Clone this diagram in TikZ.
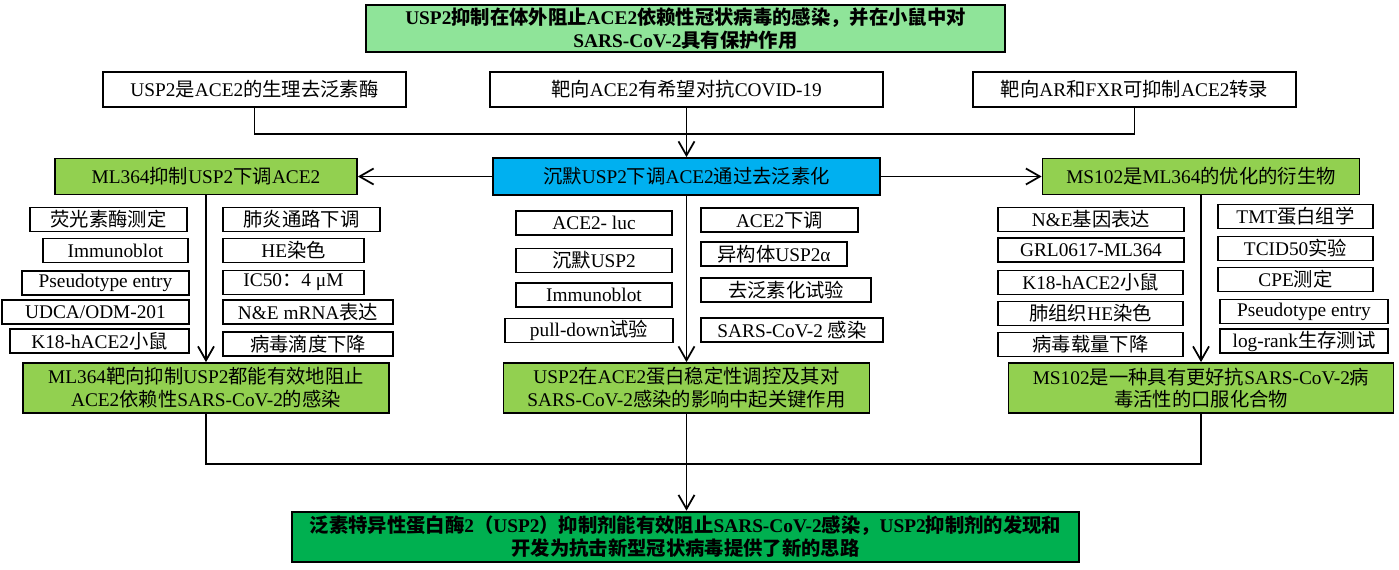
\documentclass[tikz,border=0pt]{standalone}
\usepackage{fontspec}
\setmainfont{Liberation Serif}
\newfontfamily\cjk{Noto Sans CJK SC}
\usepackage{tikz}
\usetikzlibrary{arrows.meta}

\definecolor{titlegreen}{RGB}{143,228,153}
\definecolor{hubblue}{RGB}{0,176,240}
\definecolor{leafgreen}{RGB}{146,208,80}
\definecolor{deepgreen}{RGB}{0,176,80}

% CJK characters go to Noto Sans CJK, the rest stays in Liberation Serif
\newXeTeXintercharclass\cjkclass
\newcount\cjkcnt
\cjkcnt="4E00
\loop \XeTeXcharclass\cjkcnt=\cjkclass \advance\cjkcnt 1 \ifnum\cjkcnt<"A000 \repeat
\cjkcnt="3000
\loop \XeTeXcharclass\cjkcnt=\cjkclass \advance\cjkcnt 1 \ifnum\cjkcnt<"3040 \repeat
\cjkcnt="FF00
\loop \XeTeXcharclass\cjkcnt=\cjkclass \advance\cjkcnt 1 \ifnum\cjkcnt<"FFF0 \repeat
\XeTeXinterchartoks 0 \cjkclass = {\cjk}
\XeTeXinterchartoks 4095 \cjkclass = {\cjk}
\XeTeXinterchartoks \cjkclass 0 = {\rmfamily}
\XeTeXinterchartoks \cjkclass 4095 = {\rmfamily}
\XeTeXinterchartokenstate=1

\begin{document}
\begin{tikzpicture}[x=0.02cm,y=-0.02cm,line width=1pt,
  box/.style={draw,line width=1pt,inner sep=0pt,fill=white,font=\fontsize{11}{13}\selectfont},
  sbox/.style={box,minimum height=0.48cm},
  headbox/.style={box,minimum height=0.72cm,fill=leafgreen},
  resbox/.style={box,minimum height=1cm,fill=leafgreen,align=center},
  >={Straight Barb[length=2.8mm,width=3.2mm]}]
  \useasboundingbox (0,0) rectangle (1399,569);

  \node[box,fill=titlegreen,line width=1.5pt,minimum width=12.78cm,minimum height=0.94cm,align=center,font=\fontsize{11}{13}\selectfont\bfseries] (top) at (685.5,28.5) {USP2抑制在体外阻止ACE2依赖性冠状病毒的感染，并在小鼠中对\\SARS-CoV-2具有保护作用};

  \node[box,minimum width=6.06cm,minimum height=0.7cm] (q1) at (254.5,89.5) {USP2是ACE2的生理去泛素酶};
  \node[box,minimum width=7.86cm,minimum height=0.7cm] (q2) at (686.5,89.5) {靶向ACE2有希望对抗COVID-19};
  \node[box,minimum width=6.46cm,minimum height=0.7cm] (q3) at (1134.5,89.5) {靶向AR和FXR可抑制ACE2转录};

  \node[box,fill=hubblue,minimum width=7.74cm,minimum height=0.74cm] (hub) at (686.5,176.5) {沉默USP2下调ACE2通过去泛素化};
  \node[headbox,minimum width=6.04cm] (lhead) at (206,176.5) {ML364抑制USP2下调ACE2};
  \node[headbox,minimum width=6.34cm] (rhead) at (1201,176.5) {MS102是ML364的优化的衍生物};

  \node[sbox,minimum width=3.14cm] (la1) at (108.5,219.5) {荧光素酶测定};
  \node[sbox,minimum width=2.90cm] (la2) at (115.5,250.5) {Immunoblot};
  \node[sbox,minimum width=3.34cm] (la3) at (105.5,283) {Pseudotype entry};
  \node[sbox,minimum width=3.74cm] (la4) at (95.5,312) {UDCA/ODM-201};
  \node[sbox,minimum width=3.58cm] (la5) at (99.5,341) {K18-hACE2小鼠};
  \node[sbox,minimum width=3.14cm] (lb1) at (301.5,219.5) {肺炎通路下调};
  \node[sbox,minimum width=2.82cm] (lb2) at (293.5,250.5) {HE染色};
  \node[sbox,minimum width=2.82cm] (lb3) at (293.5,282.5) {IC50：4 μM};
  \node[sbox,minimum width=3.40cm] (lb4) at (308,312) {N\&E mRNA表达};
  \node[sbox,minimum width=3.40cm] (lb5) at (308,344) {病毒滴度下降};

  \node[sbox,minimum width=3.12cm] (ma1) at (594,223) {ACE2- luc};
  \node[sbox,minimum width=3.12cm] (ma2) at (594,260.5) {沉默USP2};
  \node[sbox,minimum width=3.12cm] (ma3) at (594,295) {Immunoblot};
  \node[sbox,minimum width=3.36cm] (ma4) at (589,330.5) {pull-down试验};
  \node[sbox,minimum width=3.14cm] (mb1) at (779.5,220) {ACE2下调};
  \node[sbox,minimum width=2.92cm] (mb2) at (774,254) {异构体USP2α};
  \node[sbox,minimum width=3.40cm] (mb3) at (786,290) {去泛素化试验};
  \node[sbox,minimum width=3.64cm] (mb4) at (792,330) {SARS-CoV-2 感染};

  \node[sbox,minimum width=3.72cm] (ra1) at (1091,219.5) {N\&E基因表达};
  \node[sbox,minimum width=3.72cm] (ra2) at (1091,250) {GRL0617-ML364};
  \node[sbox,minimum width=3.70cm] (ra3) at (1090.5,282.5) {K18-hACE2小鼠};
  \node[sbox,minimum width=3.70cm] (ra4) at (1090.5,313.5) {肺组织HE染色};
  \node[sbox,minimum width=3.70cm] (ra5) at (1090.5,344.5) {病毒载量下降};
  \node[sbox,minimum width=3.10cm] (rb1) at (1295.5,216.5) {TMT蛋白组学};
  \node[sbox,minimum width=3.10cm] (rb2) at (1295.5,248.5) {TCID50实验};
  \node[sbox,minimum width=3.10cm] (rb3) at (1295.5,279.5) {CPE测定};
  \node[sbox,minimum width=3.36cm] (rb4) at (1304,311.5) {Pseudotype entry};
  \node[sbox,minimum width=3.36cm] (rb5) at (1304,341) {log-rank生存测试};

  \node[resbox,minimum width=7.32cm] (lres) at (206,388) {ML364靶向抑制USP2都能有效地阻止\\ACE2依赖性SARS-CoV-2的感染};
  \node[resbox,minimum width=7.32cm] (mres) at (686.5,388) {USP2在ACE2蛋白稳定性调控及其对\\SARS-CoV-2感染的影响中起关键作用};
  \node[resbox,minimum width=7.70cm] (rres) at (1201,388) {MS102是一种具有更好抗SARS-CoV-2病\\毒活性的口服化合物};

  \node[box,fill=deepgreen,line width=1.5pt,minimum width=15.74cm,minimum height=1cm,align=center,font=\fontsize{11}{13}\selectfont\bfseries] (concl) at (685.5,537) {泛素特异性蛋白酶2（USP2）抑制剂能有效阻止SARS-CoV-2感染，USP2抑制剂的发现和\\开发为抗击新型冠状病毒提供了新的思路};

  \draw (q1.south) -- ++(0,26) -| (q3.south);
  \draw[->] (q2.south) -- (hub.north);
  \draw[->] (hub.west) -- (lhead.east);
  \draw[->] (hub.east) -- (rhead.west);
  \draw[->] (lhead.south) -- (lres.north);
  \draw[->] (hub.south) -- (mres.north);
  \draw[->] (rhead.south) -- (rres.north);
  \draw (lres.south) -- ++(0,50) -| (rres.south);
  \draw[->] (mres.south) -- (mres.south |- concl.north);
\end{tikzpicture}
\end{document}
